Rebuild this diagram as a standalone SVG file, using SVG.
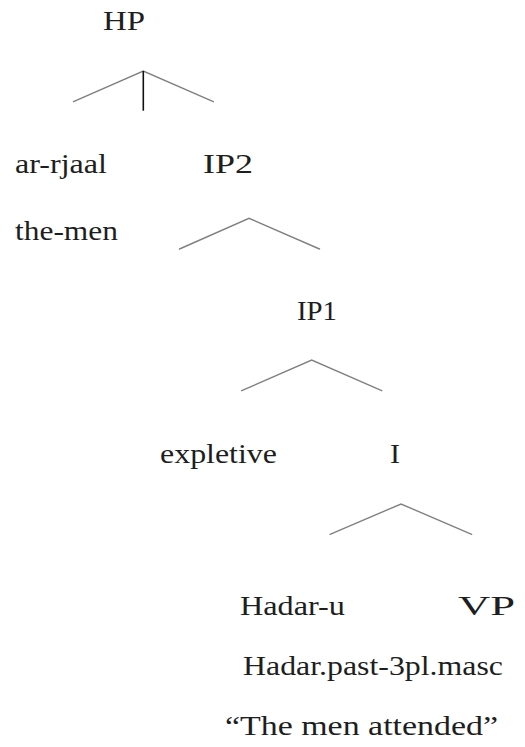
<svg xmlns="http://www.w3.org/2000/svg" width="525" height="747" viewBox="0 0 525 747">
  <style>
    .branch { stroke: #808080; stroke-width: 1.4; fill: none; stroke-linecap: round; }
    .stem { stroke: #111; stroke-width: 1.6; }
  </style>
  <rect width="525" height="747" fill="#ffffff"/>

  <g id="connectors">
    <!-- HP -->
    <polyline class="branch" points="73.5,101.7 143.3,71 213.3,101.7"/>
    <line class="stem" x1="143.3" y1="71" x2="143.3" y2="110.7"/>
    <!-- IP2 -->
    <polyline class="branch" points="179.5,249 249,218.3 319.5,249"/>
    <!-- IP1 -->
    <polyline class="branch" points="241.7,390.7 311.7,360 381.7,390.7"/>
    <!-- I -->
    <polyline class="branch" points="330,534.3 401,504 471.7,534.3"/>
  </g>

  <g font-family="Liberation Serif, DejaVu Serif, serif" font-size="27" fill="#1e1e1e">
    <g id="node-hp"><text x="103" y="30" textLength="42" lengthAdjust="spacingAndGlyphs">HP</text></g>
    <g id="node-ar-rjaal">
      <text x="15" y="172.5" textLength="92" lengthAdjust="spacingAndGlyphs">ar-rjaal</text>
      <text x="15" y="240" textLength="103" lengthAdjust="spacingAndGlyphs">the-men</text>
    </g>
    <g id="node-ip2"><text x="203" y="172.5" textLength="50" lengthAdjust="spacingAndGlyphs">IP2</text></g>
    <g id="node-ip1"><text x="297" y="320" textLength="40" lengthAdjust="spacingAndGlyphs">IP1</text></g>
    <g id="node-expletive"><text x="160" y="463" textLength="117" lengthAdjust="spacingAndGlyphs">expletive</text></g>
    <g id="node-i"><text x="390" y="463" textLength="10" lengthAdjust="spacingAndGlyphs">I</text></g>
    <g id="node-hadar">
      <text x="240" y="615" textLength="105" lengthAdjust="spacingAndGlyphs">Hadar-u</text>
      <text x="243" y="675" textLength="260" lengthAdjust="spacingAndGlyphs">Hadar.past-3pl.masc</text>
      <text x="225" y="735" textLength="273" lengthAdjust="spacingAndGlyphs">“The men attended”</text>
    </g>
    <g id="node-vp"><text x="458" y="615" textLength="57" lengthAdjust="spacingAndGlyphs">VP</text></g>
  </g>
</svg>
